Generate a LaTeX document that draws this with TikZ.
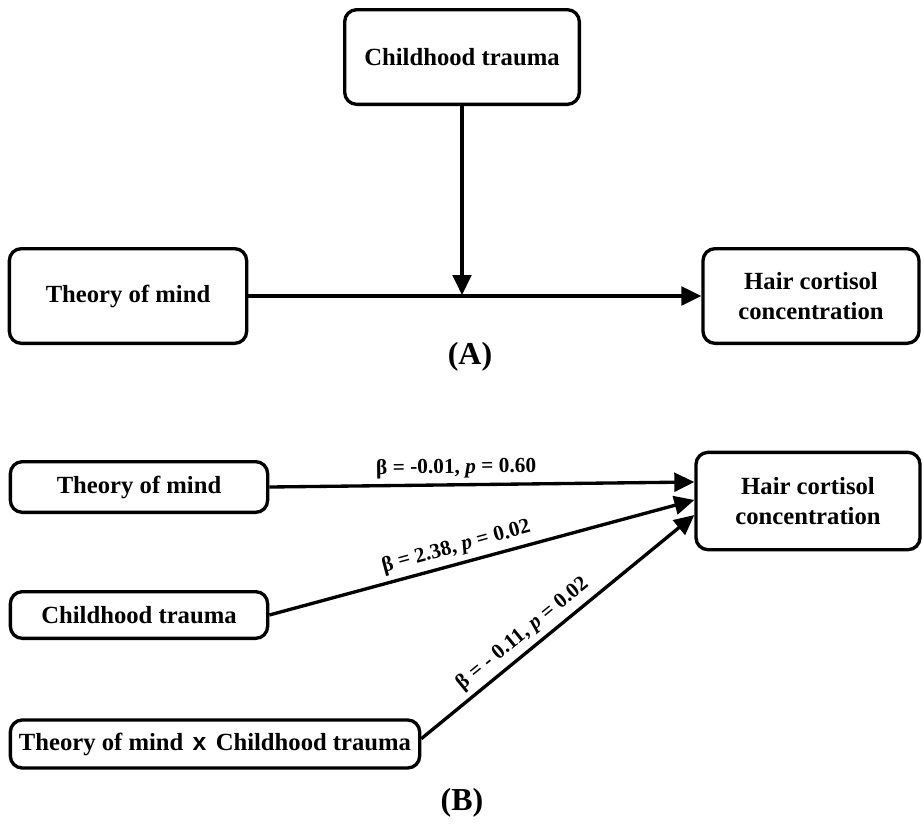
\documentclass[tikz,border=0pt]{standalone}
\usepackage{fontspec}
\setmainfont{Liberation Serif}
\newfontfamily\crossfont{Liberation Sans}
\usetikzlibrary{arrows.meta}

\newcommand{\boxfont}{\fontsize{18.5}{22}\selectfont\bfseries}
\newcommand{\coeffont}{\fontsize{16}{18}\selectfont\bfseries}
\newcommand{\panelfont}{\fontsize{24}{27}\selectfont\bfseries}

\tikzset{
  var/.style={draw, line width=2.5pt, rounded corners=9pt, align=center,
    inner sep=0pt, font=\boxfont},
  effect/.style={draw, line width=2.5pt, -{Triangle[length=15pt,width=14pt]}},
  coef/.style={font=\coeffont, sloped, above, inner sep=4pt},
  panel/.style={font=\panelfont}
}

\begin{document}
\begin{tikzpicture}[x=0.75pt,y=-0.75pt]
  \useasboundingbox (0,0) rectangle (923,832);

  % (A) moderation model
  \node[var, minimum width=176pt, minimum height=71pt] (ctA) at (462,57) {Childhood trauma};
  \node[var, minimum width=178pt, minimum height=71pt] (tomA) at (128,296) {Theory of mind};
  \node[var, minimum width=162pt, minimum height=71pt] (hccA) at (811,296) {Hair cortisol\\concentration};
  \coordinate (modA) at (462,295);
  \draw[effect] (tomA) -- (hccA);
  \draw[effect] (ctA) -- (modA);
  \node[panel] (labA) at (470,357) {(A)};

  % (B) regression paths
  \node[var, minimum width=193pt, minimum height=38pt] (tomB) at (139,487) {Theory of mind};
  \node[var, minimum width=193pt, minimum height=35pt] (ctB) at (139,615) {Childhood trauma};
  \node[var, minimum width=307pt, minimum height=36pt] (intB) at (215,744)
    {Theory of mind\hspace{7pt}{\crossfont x}\hspace{7pt}Childhood trauma};
  \node[var, minimum width=168pt, minimum height=73pt] (hccB) at (808,501) {Hair cortisol\\concentration};

  \draw[effect] (tomB.east) -- ([yshift=14.25pt]hccB.west)
    node[coef, pos=0.44] {β = -0.01, \textit{p} = 0.60};
  \draw[effect] (ctB.east) -- ([yshift=0.75pt]hccB.west)
    node[coef, pos=0.45] {β = 2.38, \textit{p} = 0.02};
  \draw[effect] ([yshift=4pt]intB.east) -- ([yshift=-10.5pt]hccB.west)
    node[coef, pos=0.41] {β = - 0.11, \textit{p} = 0.02};

  \node[panel] (labB) at (462,803) {(B)};
\end{tikzpicture}
\end{document}
